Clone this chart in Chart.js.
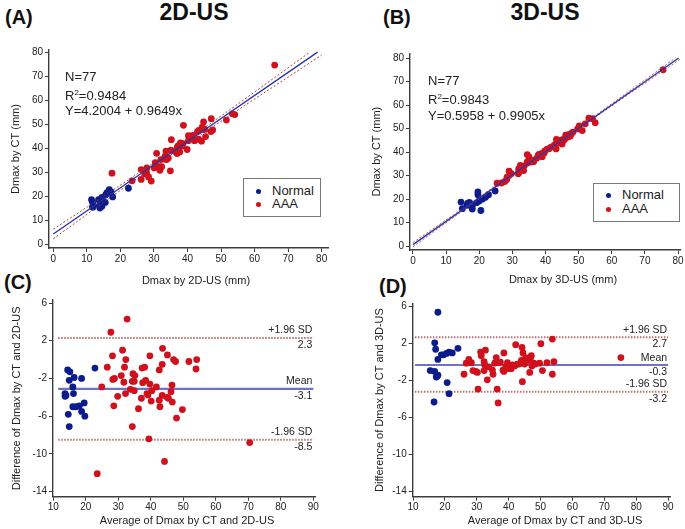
<!DOCTYPE html>
<html>
<head>
<meta charset="utf-8">
<script src="https://cdn.jsdelivr.net/npm/chart.js@4.4.1/dist/chart.umd.min.js"></script>
<style>
  html, body { margin: 0; padding: 0; background: #fff; }
  body { width: 685px; height: 529px; position: relative; overflow: hidden;
         font-family: "Liberation Sans", Arial, sans-serif; color: #1a1a1a; }
  .box { position: absolute; }
  .box canvas { display: block; }
  .txt { position: absolute; white-space: nowrap; line-height: 1; }
  .lab { font-weight: bold; font-size: 20px; color: #111; }
  .ttl { font-weight: bold; font-size: 23px; color: #111; transform: translateX(-50%); }
  .ann { font-size: 13px; color: #222; }
  .ann sup { font-size: 8px; vertical-align: 5px; }
  .xt { font-size: 11px; color: #222; transform: translateX(-50%); }
  .legend { position: absolute; border: 1px solid #7a7a7a; background: #fff; box-sizing: border-box; }
  .legend .dot { position: absolute; width: 5px; height: 5px; border-radius: 50%; }
  .legend .lt { position: absolute; font-size: 13px; line-height: 1; color: #1a1a1a; }
</style>
</head>
<body>

<div class="txt lab" style="left:5px; top:7px;">(A)</div>
<div class="txt ttl" style="left:194px; top:1px;">2D-US</div>
<div class="txt lab" style="left:383px; top:7px;">(B)</div>
<div class="txt ttl" style="left:545px; top:1px;">3D-US</div>
<div class="txt lab" style="left:4px; top:272px;">(C)</div>
<div class="txt lab" style="left:379px; top:276px;">(D)</div>

<div class="box" style="left:0; top:40px;"><canvas id="chartA" width="340" height="250"></canvas></div>
<div class="box" style="left:340px; top:40px;"><canvas id="chartB" width="345" height="250"></canvas></div>
<div class="box" style="left:0; top:290px;"><canvas id="chartC" width="340" height="239"></canvas></div>
<div class="box" style="left:340px; top:290px;"><canvas id="chartD" width="345" height="239"></canvas></div>

<div class="txt ann" style="left:65px; top:69px; line-height:15.5px;">N=77<br>R<sup>2</sup>=0.9484<br>Y=4.2004 + 0.9649x</div>
<div class="txt ann" style="left:428px; top:73px; line-height:16px;">N=77<br>R<sup>2</sup>=0.9843<br>Y=0.5958 + 0.9905x</div>

<div class="legend" style="left:243px; top:178px; width:78px; height:39px;">
  <span class="dot" style="left:12px; top:10px; background:#0c1c8c;"></span>
  <span class="lt" style="left:28px; top:5px;">Normal</span>
  <span class="dot" style="left:12px; top:23px; background:#d0101c;"></span>
  <span class="lt" style="left:28px; top:18px;">AAA</span>
</div>
<div class="legend" style="left:593px; top:183px; width:87px; height:39px;">
  <span class="dot" style="left:12px; top:9px; background:#0c1c8c;"></span>
  <span class="lt" style="left:28px; top:4px;">Normal</span>
  <span class="dot" style="left:12px; top:23px; background:#d0101c;"></span>
  <span class="lt" style="left:28px; top:18px;">AAA</span>
</div>

<div class="txt xt" style="left:196px; top:275px;">Dmax by 2D-US (mm)</div>
<div class="txt xt" style="left:563px; top:274px;">Dmax by 3D-US (mm)</div>
<div class="txt xt" style="left:187px; top:515px;">Average of Dmax by CT and 2D-US</div>
<div class="txt xt" style="left:555px; top:515px;">Average of Dmax by CT and 3D-US</div>

<script>
// ---- (A) Dmax by 2D-US vs CT, [US, CT] in mm
const a2dNormal = [
  [13.9,15.0],[14.5,15.8],[13.8,16.0],[15.5,17.4],[17.7,19.7],[14.6,17.5],[11.8,15.4],
  [11.7,15.6],[14.4,18.0],[22.4,23.3],[17.2,21.8],[15.6,20.5],[14.5,19.5],[13.5,18.5],
  [16.0,21.5],[16.7,22.7],[11.7,17.5],[11.4,18.5],[12.0,15.8]
];
const a2dAAA = [
  [34.9,30.6],[29.2,26.3],[31.8,30.8],[44.2,43.0],[28.4,28.0],[32.3,32.3],[39.9,39.5],
  [45.4,44.9],[47.0,47.0],[47.5,47.7],[51.6,51.8],[54.1,54.1],[53.4,54.4],[43.3,43.8],
  [26.2,27.0],[31.5,32.3],[37.7,38.5],[36.9,37.8],[42.1,43.2],[33.8,35.3],[34.3,36.0],
  [30.1,31.8],[27.8,29.8],[27.3,29.4],[30.5,32.9],[33.2,35.5],[33.8,36.1],[37.3,39.5],
  [36.3,38.7],[38.4,41.0],[45.2,47.9],[23.5,26.4],[40.3,43.2],[32.1,35.3],[33.3,36.6],
  [38.7,42.0],[37.0,40.6],[30.4,34.0],[37.2,41.0],[44.5,47.9],[41.6,45.4],[27.9,31.8],
  [35.1,39.2],[40.5,44.8],[43.4,47.5],[37.9,42.3],[44.4,48.9],[26.2,31.1],[40.3,45.3],
  [33.6,38.8],[47.1,52.4],[44.8,51.0],[30.8,37.9],[35.2,43.6],[38.8,49.6],[17.5,29.6],
  [66.0,74.8],[43.0,47.0]
];

// ---- (B) Dmax by 3D-US vs CT, [US, CT] in mm
const b3dNormal = [
  [20.5,15.1],[17.9,15.7],[17.8,16.4],[18.0,17.6],[19.3,18.5],[21.0,20.0],[21.9,20.7],
  [22.8,21.8],[24.8,23.4],[14.9,15.9],[16.3,17.3],[17.1,18.5],[16.5,18.1],[19.6,21.8],
  [19.6,23.0],[14.5,18.7],[20.0,19.2],[16.9,18.4]
];
const b3dAAA = [
  [25.4,26.7],[26.7,26.8],[27.7,27.4],[28.3,28.3],[28.4,29.3],[29.2,30.2],[29.0,31.9],
  [31.8,30.7],[31.8,31.1],[33.4,32.1],[32.3,32.3],[32.4,32.7],[31.9,32.8],[32.4,34.3],
  [34.5,35.3],[34.5,35.8],[35.6,35.7],[36.4,35.9],[36.5,36.5],[35.0,37.9],[34.5,38.9],
  [39.0,38.0],[37.8,38.6],[38.0,39.0],[39.6,39.6],[39.8,40.5],[40.5,41.2],[41.7,42.1],
  [43.2,41.3],[43.1,43.3],[44.1,43.9],[45.0,43.4],[45.0,44.0],[43.3,45.4],[44.9,45.1],
  [46.2,46.0],[46.1,47.2],[47.5,46.8],[47.1,47.5],[47.9,48.0],[49.7,49.8],[51.1,49.1],
  [50.2,51.1],[52.0,52.0],[55.0,52.5],[54.2,54.2],[53.1,54.4],[75.5,75.0],[42.6,42.8],
  [41.1,41.4],[43.8,43.9],[45.7,45.6],[47.0,46.6],[48.3,48.5],[38.9,39.4],[37.4,37.4],
  [33.6,34.1],[29.7,30.8],[45.6,45.1]
];

// ---- (C) Bland-Altman CT / 2D-US, [average, difference]
const c2dNormal = [
  [14.4,-1.1],[15.1,-1.3],[14.9,-2.2],[16.4,-1.9],[18.7,-2.0],[16.0,-2.9],[13.6,-3.6],
  [13.6,-3.9],[16.2,-3.6],[22.8,-0.9],[19.5,-4.6],[18.0,-4.9],[17.0,-5.0],[16.0,-5.0],
  [18.7,-5.5],[19.7,-6.0],[14.6,-5.8],[14.9,-7.1],[13.9,-3.8]
];
const c2dAAA = [
  [32.7,4.3],[27.7,2.9],[31.3,1.0],[43.6,1.2],[28.2,0.4],[32.3,0.0],[39.7,0.4],
  [45.1,0.5],[47.0,0.0],[47.6,-0.2],[51.7,-0.2],[54.1,0.0],[53.9,-1.0],[43.5,-0.5],
  [26.6,-0.8],[31.9,-0.8],[38.1,-0.8],[37.3,-0.9],[42.6,-1.1],[34.5,-1.5],[35.1,-1.7],
  [30.9,-1.7],[28.8,-2.0],[28.3,-2.1],[31.7,-2.4],[34.3,-2.3],[34.9,-2.3],[38.4,-2.2],
  [37.5,-2.45],[39.7,-2.6],[46.5,-2.7],[24.9,-2.9],[41.7,-2.9],[33.7,-3.15],[34.9,-3.3],
  [40.3,-3.3],[38.8,-3.6],[32.2,-3.6],[39.1,-3.75],[46.2,-3.4],[43.5,-3.8],[29.8,-3.9],
  [37.1,-4.1],[42.6,-4.3],[45.4,-4.1],[40.1,-4.4],[46.6,-4.5],[28.6,-4.9],[42.8,-5.0],
  [36.2,-5.2],[49.7,-5.3],[47.9,-6.2],[34.3,-7.1],[39.4,-8.4],[44.2,-10.8],[23.5,-12.1],
  [70.4,-8.8],[45.0,-4.0]
];

// ---- (D) Bland-Altman CT / 3D-US, [average, difference]
const d3dNormal = [
  [17.8,5.4],[16.8,2.1],[17.1,1.4],[17.8,0.3],[18.9,0.8],[20.5,0.95],[21.3,1.1],
  [22.3,1.0],[24.1,1.5],[15.4,-0.9],[16.8,-1.0],[17.8,-1.4],[17.3,-1.6],[20.7,-2.2],
  [21.3,-3.4],[16.6,-4.3],[19.6,0.8],[17.6,-1.5]
];
const d3dAAA = [
  [26.0,-1.3],[26.7,-0.1],[27.5,0.3],[28.3,-0.05],[28.8,-0.9],[29.7,-1.0],[30.4,-2.9],
  [31.2,1.1],[31.4,0.7],[32.7,1.3],[32.3,0.05],[32.5,-0.3],[32.3,-0.9],[33.3,-1.9],
  [34.9,-0.85],[35.1,-1.3],[35.6,-0.1],[36.1,0.5],[36.5,-0.05],[36.4,-2.9],[36.7,-4.4],
  [38.5,1.0],[38.2,-0.85],[38.5,-1.0],[39.6,-0.05],[40.1,-0.7],[40.8,-0.7],[41.9,-0.4],
  [42.2,1.9],[43.2,-0.2],[44.0,0.2],[44.2,1.6],[44.5,1.0],[44.3,-2.1],[45.0,-0.2],
  [46.1,0.2],[46.6,-1.1],[47.1,0.7],[47.3,-0.4],[47.9,-0.1],[49.7,-0.1],[50.1,2.0],
  [50.6,-0.9],[52.0,-0.05],[53.7,2.5],[54.2,0.05],[53.7,-1.3],[75.2,0.5],[42.7,-0.2],
  [41.2,-0.3],[43.8,-0.1],[45.6,0.1],[46.8,0.4],[48.4,-0.2],[39.1,-0.5],[37.4,0.0],
  [33.8,-0.5],[30.2,-1.1],[45.3,0.5]
];

// regression line and its dotted band
const fit2dX = [0, 78.8], fit2dY = [4.2, 80.2];
const up2dX = [0, 17, 35, 53, 76.3], up2dY = [6.2, 21.8, 38.8, 56.5, 80.0];
const lo2dX = [0, 17, 35, 53, 80], lo2dY = [2.2, 19.4, 37.2, 54.1, 79.0];
const fit3dX = [0, 80.2], fit3dY = [0.6, 80.0];
const up3dX = [0, 19, 38, 57, 79.2], up3dY = [1.5, 19.8, 38.6, 57.5, 80.0];
const lo3dX = [0, 19, 38, 57, 80.5], lo3dY = [-0.3, 19.0, 37.9, 56.7, 79.4];

// Bland-Altman limits: +1.96 SD, mean, -1.96 SD
const baNames = ['+1.96 SD', 'Mean', '-1.96 SD'];
const ba2dLimits = [2.3, -3.1, -8.5];
const ba3dLimits = [2.7, -0.3, -3.2];
const ba2dSpan = [11.5, 90], ba3dSpan = [10.6, 90];

// tick labels
const corrTicks = [0, 10, 20, 30, 40, 50, 60, 70, 80];
const baXTicks = [10, 20, 30, 40, 50, 60, 70, 80, 90];
const baYTicks = [-14, -10, -6, -2, 2, 6];

const FONT = "'Liberation Sans', Arial, sans-serif";
const NAVY = '#0c1c8c';
const RED = '#d0101c';
const AXIS = '#3c3c3c';

Chart.defaults.font.family = FONT;
Chart.defaults.color = '#222';

const pairs = (xs, ys) => xs.map((x, i) => ({ x: x, y: ys[i] }));

// axis with fixed box size so the plot area lands where the figure has it
function linAxis(pos, min, max, ticks, size, title, titlePad) {
  return {
    type: 'linear', position: pos, min: min, max: max,
    border: { display: true, color: AXIS, width: 1.4 },
    grid: { display: true, drawOnChartArea: false, drawTicks: true, tickLength: 4, color: AXIS, lineWidth: 1 },
    ticks: { font: { size: 10 }, color: '#222', padding: pos === 'left' ? 2 : 1, maxRotation: 0, autoSkip: false },
    title: title ? { display: true, text: title, font: { size: 11 }, color: '#222', padding: { top: titlePad, bottom: 0 } }
                 : { display: false },
    afterBuildTicks: s => { s.ticks = ticks.map(v => ({ value: v })); },
    afterFit: s => {
      if (pos === 'left') s.width = size; else s.height = size;
      s.paddingLeft = s.paddingRight = s.paddingTop = s.paddingBottom = 0;
    }
  };
}

function pointSets(normal, aaa, base) {
  return [
    { label: 'AAA', data: aaa, backgroundColor: RED, borderWidth: 0, pointRadius: 3.4, order: base },
    { label: 'Normal', data: normal, backgroundColor: NAVY, borderWidth: 0, pointRadius: 3.4, order: base + 1 }
  ];
}

function lineSet(data, color, width, dash, order) {
  return { data: data, showLine: true, borderColor: color, borderWidth: width, borderDash: dash,
           pointRadius: 0, tension: 0.4, cubicInterpolationMode: 'monotone', fill: false, order: order };
}

// labels beside the Bland-Altman limit lines
const baLabels = {
  id: 'baLabels',
  afterDatasetsDraw(chart, args, opts) {
    if (!opts.values) return;
    const ctx = chart.ctx, x = chart.scales.x, y = chart.scales.y;
    const xr = x.getPixelForValue(90) - 1;
    ctx.save();
    ctx.font = '10.5px ' + FONT;
    ctx.fillStyle = '#222';
    ctx.textAlign = 'right';
    ctx.textBaseline = 'middle';
    opts.values.forEach((v, i) => {
      const py = y.getPixelForValue(v);
      ctx.fillText(baNames[i], xr, py - 7.3);
      ctx.fillText(v.toFixed(1), xr, py + 7.3);
    });
    ctx.restore();
  }
};

function makeChart(id, cfg) {
  return new Chart(document.getElementById(id), {
    type: 'scatter',
    data: { datasets: cfg.datasets },
    options: {
      responsive: false, animation: false, devicePixelRatio: 1, events: [],
      layout: { padding: cfg.padding },
      plugins: { legend: { display: false }, tooltip: { enabled: false }, baLabels: { values: cfg.limits } },
      scales: { x: cfg.x, y: cfg.y }
    },
    plugins: [baLabels]
  });
}

// (A)
makeChart('chartA', {
  padding: { left: 0, right: 12, top: 10, bottom: 0 },
  x: linAxis('bottom', -1.28, 81.9, corrTicks, 42),
  y: linAxis('left', -1.67, 81.1, corrTicks, 49, 'Dmax by CT (mm)', 9),
  datasets: [
    lineSet(pairs(fit2dX, fit2dY), '#2233b0', 1.3, [], 0),
    lineSet(pairs(up2dX, up2dY), '#a32a2a', 0.9, [2, 2], 1),
    lineSet(pairs(lo2dX, lo2dY), '#a32a2a', 0.9, [2, 2], 1)
  ].concat(pointSets(a2dNormal, a2dAAA, 2))
});

// (B)
makeChart('chartB', {
  padding: { left: 0, right: 5, top: 13.3, bottom: 0 },
  x: linAxis('bottom', -0.9, 80.6, corrTicks, 40),
  y: linAxis('left', -1.7, 82.0, corrTicks, 70, 'Dmax by CT (mm)', 30.4),
  datasets: [
    lineSet(pairs(fit3dX, fit3dY), '#2233b0', 1.3, [], 0),
    lineSet(pairs(up3dX, up3dY), '#c04040', 0.9, [2, 2], 1),
    lineSet(pairs(lo3dX, lo3dY), '#c04040', 0.9, [2, 2], 1)
  ].concat(pointSets(b3dNormal, b3dAAA, 2))
});

function baLines(limits, span) {
  return limits.map((v, i) => i === 1
    ? lineSet(pairs(span, [v, v]), '#6e73c6', 2.2, [], 5)
    : lineSet(pairs(span, [v, v]), '#b87070', 2, [1.5, 1.5], 5));
}

// (C)
makeChart('chartC', {
  padding: { left: 0, right: 25, top: 10, bottom: 0 },
  limits: ba2dLimits,
  x: linAxis('bottom', 9.9, 90.5, baXTicks, 32.3),
  y: linAxis('left', -14.54, 6.32, baYTicks, 53, 'Difference of Dmax by CT and 2D-US', 10.4),
  datasets: pointSets(c2dNormal, c2dAAA, 0).concat(baLines(ba2dLimits, ba2dSpan))
});

// (D)
makeChart('chartD', {
  padding: { left: 0, right: 15, top: 13.3, bottom: 0 },
  limits: ba3dLimits,
  x: linAxis('bottom', 9.9, 90.6, baXTicks, 32.3),
  y: linAxis('left', -14.54, 6.37, baYTicks, 72.7, 'Difference of Dmax by CT and 3D-US', 33.4),
  datasets: pointSets(d3dNormal, d3dAAA, 0).concat(baLines(ba3dLimits, ba3dSpan))
});
</script>
</body>
</html>
